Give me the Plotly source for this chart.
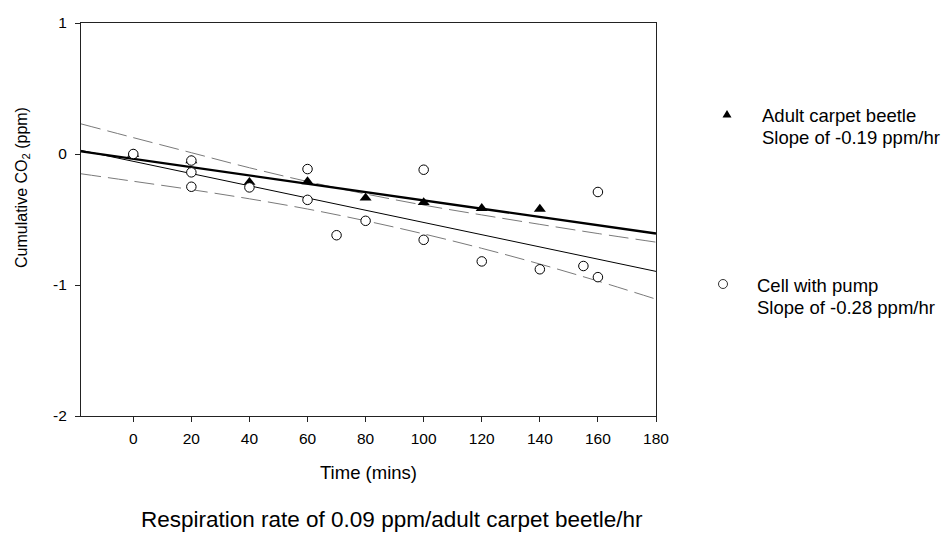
import plotly.graph_objects as go

# Measured cumulative CO2 (ppm) against time (mins)
beetle_time = [0, 20, 40, 60, 80, 100, 120, 140]
beetle_co2 = [0.0, -0.05, -0.215, -0.21, -0.335, -0.37, -0.415, -0.42]

pump_time = [0, 20, 20, 20, 40, 60, 60, 70, 80, 100, 100, 120, 140, 155, 160, 160]
pump_co2 = [0.0, -0.05, -0.14, -0.25, -0.255, -0.115, -0.35, -0.62, -0.51,
            -0.12, -0.655, -0.82, -0.88, -0.855, -0.29, -0.94]

# Regression lines: slopes in ppm/hr, intercepts in ppm
beetle_slope_hr = -0.19
beetle_intercept = -0.037
pump_slope_hr = -0.28
pump_intercept = -0.056

# Confidence band around the pump regression
band_time = [-18, 0, 20, 40, 60, 80, 100, 120, 140, 160, 180]
band_upper = [0.23, 0.125, 0.01, -0.105, -0.21, -0.305, -0.39, -0.465, -0.537, -0.607, -0.673]
band_lower = [-0.151, -0.208, -0.272, -0.342, -0.42, -0.51, -0.61, -0.72, -0.84, -0.97, -1.108]

x_range = [-18, 180]
x_ticks = [0, 20, 40, 60, 80, 100, 120, 140, 160, 180]
y_range = [-2, 1]
y_ticks = [-2, -1, 0, 1]

legend_lines = [
    ["Adult carpet beetle", "Slope of -0.19 ppm/hr"],
    ["Cell with pump", "Slope of -0.28 ppm/hr"],
]

FONT = "Arial, Liberation Sans, sans-serif"

W, H = 945, 533
ML, MR, MT, MB = 81, W - 656, 23, H - 416
pw, ph = W - ML - MR, H - MT - MB


def px_x(x):
    return (x - ML) / pw


def px_y(y):
    return (H - y - MB) / ph


def fit_line(slope_hr, intercept):
    xs = list(x_range)
    ys = [intercept + slope_hr / 60.0 * x for x in xs]
    return xs, ys


fig = go.Figure()

band_style = dict(color="#7a7a7a", width=1, dash="20px,7px", shape="spline")
fig.add_trace(go.Scatter(x=band_time, y=band_upper, mode="lines", line=band_style,
                         hoverinfo="skip", showlegend=False))
fig.add_trace(go.Scatter(x=band_time, y=band_lower, mode="lines", line=band_style,
                         hoverinfo="skip", showlegend=False))

px, py = fit_line(pump_slope_hr, pump_intercept)
fig.add_trace(go.Scatter(x=px, y=py, mode="lines", line=dict(color="black", width=1),
                         hoverinfo="skip", showlegend=False))

bx, by = fit_line(beetle_slope_hr, beetle_intercept)
fig.add_trace(go.Scatter(x=bx, y=by, mode="lines", line=dict(color="black", width=2.4),
                         hoverinfo="skip", showlegend=False))

fig.add_trace(go.Scatter(x=beetle_time, y=beetle_co2, mode="markers",
                         marker=dict(symbol="triangle-up", size=10.5, color="black",
                                     line=dict(width=0)),
                         name="Adult carpet beetle", showlegend=False))
fig.add_trace(go.Scatter(x=pump_time, y=pump_co2, mode="markers",
                         marker=dict(symbol="circle", size=9.5, color="white",
                                     line=dict(color="black", width=1)),
                         name="Cell with pump", showlegend=False))

axis_common = dict(showgrid=False, zeroline=False, showline=True, linecolor="#222",
                   linewidth=1, mirror=True, ticks="outside", ticklen=5,
                   tickcolor="#222", tickfont=dict(family=FONT, size=15.5, color="black"))

fig.update_xaxes(range=x_range, tickvals=x_ticks, ticktext=[str(t) for t in x_ticks],
                 ticklabelstandoff=3, **axis_common)
fig.update_yaxes(range=y_range, tickvals=y_ticks, ticktext=[str(t) for t in y_ticks],
                 ticklabelstandoff=5, **axis_common)

annotations = [
    dict(text="Time (mins)", x=px_x(368), y=px_y(472), font_size=18.5),
    dict(text="Cumulative CO<sub>2</sub> (ppm)", x=px_x(22), y=px_y(188),
         textangle=-90, font_size=16),
    dict(text="Respiration rate of 0.09 ppm/adult carpet beetle/hr", x=px_x(392),
         y=px_y(519), font_size=22.5),
]
legend_pos = [(760, 115, 137), (755, 285, 307)]
for (lx, y1, y2), lines in zip(legend_pos, legend_lines):
    for yy, txt in zip((y1, y2), lines):
        annotations.append(dict(text=txt, x=px_x(lx), y=px_y(yy), xanchor="left",
                                font_size=18.5))

for a in annotations:
    a.update(xref="paper", yref="paper", showarrow=False, yanchor="middle")
    a.setdefault("xanchor", "center")
    a["font"] = dict(family=FONT, size=a.pop("font_size"), color="black")

# Legend symbols, sized in pixels
shapes = [
    dict(type="path", xref="paper", yref="paper", xsizemode="pixel", ysizemode="pixel",
         xanchor=px_x(727), yanchor=px_y(114),
         path="M -4.5,-3.5 L 4.5,-3.5 L 0,4 Z", fillcolor="black",
         line=dict(width=0)),
    dict(type="circle", xref="paper", yref="paper", xsizemode="pixel", ysizemode="pixel",
         xanchor=px_x(723), yanchor=px_y(284), x0=-4.5, x1=4.5, y0=-4.5, y1=4.5,
         fillcolor="white", line=dict(color="black", width=0.8)),
]

fig.update_layout(
    width=W, height=H,
    margin=dict(l=ML, r=MR, t=MT, b=MB),
    paper_bgcolor="white", plot_bgcolor="white",
    annotations=annotations,
    shapes=shapes,
    showlegend=False,
)

fig.write_html("out.html")
